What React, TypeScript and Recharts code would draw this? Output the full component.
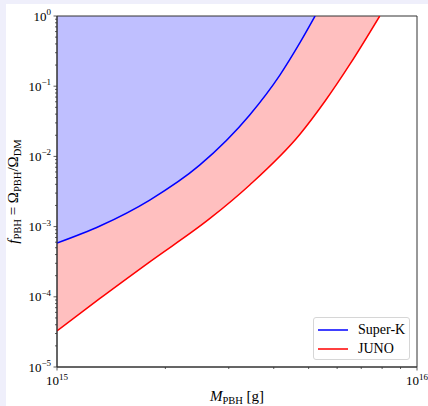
import { ComposedChart, Area, Line, XAxis, YAxis, Legend, ReferenceArea } from "recharts";

// Super-K exclusion limit on f_PBH vs PBH mass [g]
const superKMass = [1e15, 1.316e15, 1.81e15, 2.49e15, 3.43e15, 4.16e15, 4.73e15, 5.21e15];
const superKLimit = [5.83e-4, 1.02e-3, 2.39e-3, 7.5e-3, 0.0389, 0.144, 0.417, 1.0];

// JUNO projected limit
const junoMass = [1e15, 1.316e15, 1.81e15, 2.66e15, 3.43e15, 4.73e15, 5.55e15, 6.52e15, 7.88e15];
const junoLimit = [3.26e-5, 9.48e-5, 3.15e-4, 1.306e-3, 3.92e-3, 0.0207, 0.061, 0.2075, 1.0];

const xTicks = [1e15, 2e15, 3e15, 4e15, 5e15, 6e15, 7e15, 8e15, 9e15, 1e16];
const yTicks = [-5, -4, -3, -2, -1].flatMap((e) =>
  [1, 2, 3, 4, 5, 6, 7, 8, 9].map((k) => k * Math.pow(10, e))
).concat([1]);

const legendItems = [
  { name: "Super-K", color: "#0000ff" },
  { name: "JUNO", color: "#ff0000" },
];

const FONT = '"Liberation Serif", "Times New Roman", serif';
const AXIS = "#333";

const superKRows = superKMass.map((m, i) => ({ m, limit: superKLimit[i], band: [superKLimit[i], 1] }));
const junoRows = junoMass.map((m, i) => ({ m, limit: junoLimit[i], band: [junoLimit[i], 1] }));

const isDecade = (v: number) => Math.abs(Math.log10(v) - Math.round(Math.log10(v))) < 1e-6;
const expText = (v: number) => {
  const e = Math.round(Math.log10(v));
  return e < 0 ? "\u2212" + -e : String(e);
};

const YTick = (props: any) => {
  const { x, y, payload } = props;
  const major = isDecade(payload.value);
  return (
    <g>
      <line x1={x} x2={x - (major ? 3.5 : 2)} y1={y} y2={y} stroke={AXIS} strokeWidth={0.8} />
      {major && (
        <text x={x - 6} y={y + 4.5} textAnchor="end" fontFamily={FONT} fontSize={13} fill="#000">
          10
          <tspan dy={-5.5} fontSize={9}>
            {expText(payload.value)}
          </tspan>
        </text>
      )}
    </g>
  );
};

const XTick = (props: any) => {
  const { x, y, payload } = props;
  const major = isDecade(payload.value);
  return (
    <g>
      <line x1={x} x2={x} y1={y} y2={y + (major ? 3.5 : 2)} stroke={AXIS} strokeWidth={0.8} />
      {major && (
        <text x={x} y={y + 18} textAnchor="middle" fontFamily={FONT} fontSize={13} fill="#000">
          10
          <tspan dy={-5.5} fontSize={9}>
            {expText(payload.value)}
          </tspan>
        </text>
      )}
    </g>
  );
};

const YTitle = (props: any) => {
  const vb = props.viewBox;
  const cx = vb.x + 12;
  const cy = vb.y + vb.height / 2;
  return (
    <text
      x={cx}
      y={cy}
      transform={`rotate(-90 ${cx} ${cy})`}
      textAnchor="middle"
      fontFamily={FONT}
      fontSize={15}
      fill="#000"
    >
      <tspan fontStyle="italic">f</tspan>
      <tspan dy={3} fontSize={10.5}>PBH</tspan>
      <tspan dy={-3}> = Ω</tspan>
      <tspan dy={3} fontSize={10.5}>PBH</tspan>
      <tspan dy={-3}>/Ω</tspan>
      <tspan dy={3} fontSize={10.5}>DM</tspan>
    </text>
  );
};

const XTitle = (props: any) => {
  const vb = props.viewBox;
  return (
    <text x={vb.x + vb.width / 2} y={vb.y + 34} textAnchor="middle" fontFamily={FONT} fontSize={15} fill="#000">
      <tspan fontStyle="italic">M</tspan>
      <tspan dy={3} fontSize={10.5}>PBH</tspan>
      <tspan dy={-3}> [g]</tspan>
    </text>
  );
};

const LegendBox = () => (
  <div
    style={{
      width: 97,
      height: 43,
      border: "1px solid #d6d6d6",
      borderRadius: 3,
      background: "rgba(255,255,255,0.85)",
      fontFamily: FONT,
      fontSize: 14,
      boxSizing: "border-box",
      position: "relative",
    }}
  >
    {legendItems.map((it, i) => (
      <div
        key={it.name}
        style={{ position: "absolute", left: 4, top: 3 + i * 19, height: 17, display: "flex", alignItems: "center" }}
      >
        <svg width={30} height={4} style={{ display: "block" }}>
          <line x1={0} x2={30} y1={2} y2={2} stroke={it.color} strokeWidth={1.5} />
        </svg>
        <span style={{ marginLeft: 10, color: "#000", lineHeight: "17px" }}>{it.name}</span>
      </div>
    ))}
  </div>
);

export default function App() {
  return (
    <div style={{ position: "absolute", left: 0, top: 0, width: 428, height: 406, background: "#efeffb" }}>
      <div style={{ position: "absolute", left: 6, top: 4, width: 422, height: 402, background: "#fff" }}>
        <ComposedChart width={422} height={402} margin={{ top: 12, right: 11, left: 0, bottom: 0 }}>
          <XAxis
            dataKey="m"
            type="number"
            scale="log"
            domain={[1e15, 1e16]}
            allowDataOverflow
            ticks={xTicks}
            interval={0}
            height={39}
            tickSize={0}
            tickMargin={0}
            tickLine={false}
            axisLine={{ stroke: AXIS }}
            tick={(p: any) => <XTick {...p} />}
            label={(p: any) => <XTitle {...p} />}
          />
          <YAxis
            type="number"
            scale="log"
            domain={[1e-5, 1]}
            allowDataOverflow
            ticks={yTicks}
            interval={0}
            width={51}
            tickSize={0}
            tickMargin={0}
            tickLine={false}
            axisLine={{ stroke: AXIS }}
            tick={(p: any) => <YTick {...p} />}
            label={(p: any) => <YTitle {...p} />}
          />
          <Area
            data={junoRows}
            dataKey="band"
            type="monotone"
            stroke="none"
            fill="#ffbfbf"
            fillOpacity={1}
            isAnimationActive={false}
            legendType="none"
          />
          <Area
            data={superKRows}
            dataKey="band"
            type="monotone"
            stroke="none"
            fill="#bfbfff"
            fillOpacity={1}
            isAnimationActive={false}
            legendType="none"
          />
          <Line data={junoRows} dataKey="limit" name="JUNO" type="monotone" stroke="#ff0000" strokeWidth={1.5} dot={false} isAnimationActive={false} />
          <Line data={superKRows} dataKey="limit" name="Super-K" type="monotone" stroke="#0000ff" strokeWidth={1.5} dot={false} isAnimationActive={false} />
          <ReferenceArea x1={1e15} x2={1e16} y1={1e-5} y2={1} fill="none" stroke={AXIS} strokeWidth={1} ifOverflow="visible" />
          <Legend
            layout="vertical"
            align="center"
            verticalAlign="middle"
            wrapperStyle={{ left: 307, top: 313, width: 97 }}
            content={() => <LegendBox />}
          />
        </ComposedChart>
      </div>
    </div>
  );
}
